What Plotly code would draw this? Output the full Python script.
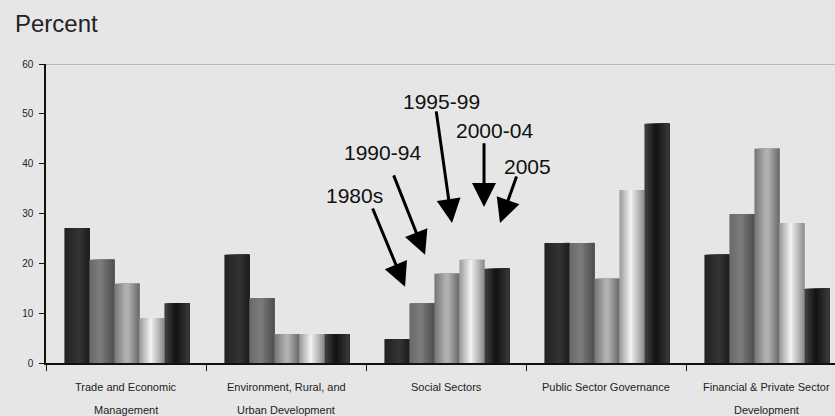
import plotly.graph_objects as go

categories_line1 = ["Trade and Economic", "Environment, Rural, and", "Social Sectors",
                    "Public Sector Governance", "Financial & Private Sector"]
categories_line2 = ["Management", "Urban Development", "", "", "Development"]
series_names = ["1980s", "1990-94", "1995-99", "2000-04", "2005"]
v1980s = [27.1, 21.7, 4.8, 24.1, 21.7]
v1990_94 = [20.7, 13.0, 12.0, 24.1, 29.9]
v1995_99 = [15.9, 5.8, 17.9, 16.9, 43.0]
v2000_04 = [9.0, 5.8, 20.7, 34.7, 28.1]
v2005 = [12.0, 5.8, 18.9, 48.0, 14.9]
series_values = [v1980s, v1990_94, v1995_99, v2000_04, v2005]
yticks = [0, 10, 20, 30, 40, 50, 60]

# gray shading profiles (left, mid, right, mid position)
profiles = [
    (0x22, 0x34, 0x1c, 0.6),
    (0x6a, 0x7c, 0x4e, 0.45),
    (0x74, 0xb8, 0x68, 0.5),
    (0x98, 0xf2, 0x8a, 0.45),
    (0x44, 0x12, 0x3c, 0.45),
]

x = list(range(len(categories_line1)))
K = 12
bar_w = 25 / 160
group_start = -0.385

fig = go.Figure()
for s, vals in enumerate(series_values):
    l, m, r, tm = profiles[s]
    for k in range(K):
        t = (k + 0.5) / K
        if t <= tm:
            g = l + (m - l) * t / tm
        else:
            g = m + (r - m) * (t - tm) / (1 - tm)
        g = int(round(g))
        col = f"rgb({g},{g},{g})"
        fig.add_trace(go.Bar(
            x=x, y=vals, name=series_names[s],
            width=bar_w - k * bar_w / K,
            offset=group_start + s * bar_w + k * bar_w / K,
            marker=dict(color=col, line=dict(width=0)),
            showlegend=False, hoverinfo="skip",
        ))

fig.update_layout(
    width=835, height=416,
    margin=dict(l=46, r=0, t=64, b=53),
    paper_bgcolor="#e6e6e6", plot_bgcolor="#e6e6e6",
    barmode="overlay",
    font=dict(family="Liberation Sans, Arial", color="#222"),
    showlegend=False,
)
fig.update_xaxes(
    range=[-0.5, 4.431], tickvals=[-0.5, 0.5, 1.5, 2.5, 3.5], ticktext=["", "", "", "", ""],
    ticks="outside", ticklen=6, tickcolor="#111", tickwidth=1,
    showline=True, linecolor="#111", linewidth=1.5, showgrid=False, zeroline=False,
)
fig.update_yaxes(
    range=[0, 60], tickvals=yticks, ticks="outside", ticklen=5, tickcolor="#111",
    tickfont=dict(size=10, color="#222"), ticklabelstandoff=4,
    showline=True, linecolor="#111", linewidth=1.5, showgrid=False, zeroline=False,
)
fig.add_shape(type="line", xref="paper", yref="y", x0=0, x1=1, y0=60, y1=60,
              line=dict(color="#888", width=1))

ann = []
for i in x:
    ann.append(dict(x=i, y=-0.0803, xref="x", yref="paper", text=categories_line1[i],
                    showarrow=False, font=dict(size=11, color="#222"), yanchor="middle"))
    if categories_line2[i]:
        ann.append(dict(x=i, y=-0.158, xref="x", yref="paper", text=categories_line2[i],
                        showarrow=False, font=dict(size=11, color="#222"), yanchor="middle"))

ann.append(dict(x=-0.0418, y=1.134, xref="paper", yref="paper", xanchor="left", yanchor="middle",
                text="Percent", showarrow=False, font=dict(size=24, color="#222")))
# arrow labels: (label, text x, text y, tail x, tail y, tip x, tip y)
labels = [
    ("1980s", 1.431, 33.7, 1.5375, 31.3, 1.744, 15.3),
    ("1990-94", 1.606, 42.2, 1.669, 37.95, 1.869, 21.7),
    ("1995-99", 1.97, 52.4, 1.9375, 50.8, 2.0375, 28.1),
    ("2000-04", 2.30, 46.6, 2.2375, 44.4, 2.2375, 31.3),
    ("2005", 2.51, 39.4, 2.444, 37.75, 2.3375, 28.1),
]
for lab, tx, ty, ax_, ay_, px, py in labels:
    ann.append(dict(x=tx, y=ty, xref="x", yref="y", text=lab, showarrow=False,
                    font=dict(size=21, color="#111")))
    ann.append(dict(x=px, y=py, xref="x", yref="y", ax=ax_, ay=ay_, axref="x", ayref="y",
                    text="", showarrow=True, arrowhead=2, arrowsize=1.6, arrowwidth=3,
                    arrowcolor="#000", standoff=0, startstandoff=0))
fig.update_layout(annotations=ann)
fig.write_html("out.html")
